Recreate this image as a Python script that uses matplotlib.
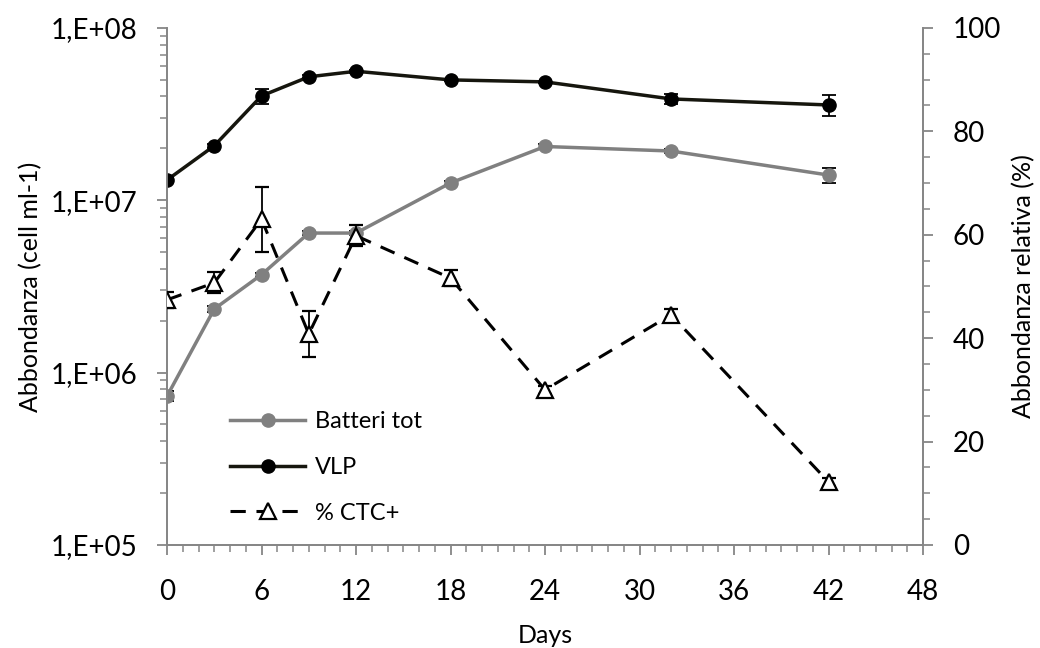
import numpy as np
import matplotlib
matplotlib.use("Agg")
import matplotlib.pyplot as plt
from matplotlib.lines import Line2D
from matplotlib.ticker import FixedLocator, MultipleLocator, FuncFormatter, NullFormatter

plt.rcParams['font.family'] = ['Lato', 'DejaVu Sans']

# sampling days
days = [0, 3, 6, 9, 12, 18, 24, 32, 42]

# total bacteria and virus-like particles (cell/ml)
batteri = [7.3e5, 2.34e6, 3.7e6, 6.45e6, 6.45e6, 1.26e7, 2.05e7, 1.93e7, 1.40e7]
batteri_err = [5e4, 1e5, 1e5, 1.5e5, 1.5e5, 3e5, 8e5, 5e5, 1.4e6]
vlp = [1.31e7, 2.07e7, 4.03e7, 5.2e7, 5.6e7, 4.99e7, 4.86e7, 3.87e7, 3.57e7]
vlp_err = [3e5, 5e5, 4e6, 1e6, 1e6, 8e5, 8e5, 2.5e6, 5e6]

# percentage of CTC+ cells
ctc = [47.4, 50.7, 63.0, 40.8, 59.8, 51.6, 30.0, 44.5, 12.2]
ctc_err = [1.6, 2.0, 6.3, 4.5, 2.0, 1.5, 0.8, 1.2, 0.8]

axis_grey = '#868686'
grey_line = '#808080'
dark_line = '#16160e'
dash = (0, (5, 3.5))

fig = plt.figure(figsize=(10.4, 6.48), dpi=100)
ax = fig.add_axes([0.1606, 0.159, 0.7269, 0.798])
ax2 = ax.twinx()

err_kw = dict(ecolor='black', elinewidth=1.3, capsize=5, capthick=1.3, zorder=3)
ax.errorbar(days, batteri, yerr=batteri_err, color=grey_line, lw=2.5,
            marker='o', ms=9.5, mec=grey_line, **err_kw)
ax.errorbar(days, vlp, yerr=vlp_err, color=dark_line, lw=2.5,
            marker='o', ms=9.5, mfc='black', mec='black', **err_kw)
ax2.errorbar(days, ctc, yerr=ctc_err, color='black', lw=2.2, ls=dash,
             marker='^', ms=12, mfc='white', mec='black', mew=1.6, **err_kw)

ax.set_yscale('log')
ax.set_ylim(1e5, 1e8)
ax.set_xlim(0, 48)
ax.yaxis.set_major_locator(FixedLocator([1e5, 1e6, 1e7, 1e8]))
ax.yaxis.set_minor_locator(FixedLocator(
    [m * 10 ** e for e in range(5, 8) for m in range(2, 10)]))
ax.yaxis.set_major_formatter(FuncFormatter(lambda v, p: '1,E+%02d' % round(np.log10(v))))
ax.yaxis.set_minor_formatter(NullFormatter())
ax.xaxis.set_major_locator(MultipleLocator(6))
ax.xaxis.set_minor_locator(MultipleLocator(1))

ax2.set_ylim(0, 100)
ax2.yaxis.set_major_locator(MultipleLocator(20))
ax2.yaxis.set_minor_locator(MultipleLocator(5))

for a in (ax, ax2):
    a.spines['top'].set_visible(False)
    for s in ('left', 'right', 'bottom'):
        a.spines[s].set_color(axis_grey)
        a.spines[s].set_linewidth(1.3)
    a.tick_params(which='major', length=7.5, width=1.3, color=axis_grey,
                  labelsize=20)
    a.tick_params(which='minor', length=5, width=1.1, color=axis_grey)
ax.tick_params(axis='x', which='major', pad=17)
ax.tick_params(axis='y', which='major', pad=14)
ax2.tick_params(axis='y', which='major', pad=14)

ax.set_xlabel('Days', fontsize=18, labelpad=14)
ax.set_ylabel('Abbondanza (cell ml-1)', fontsize=18, labelpad=6)
ax2.set_ylabel('Abbondanza relativa (%)', fontsize=18, labelpad=8)

# legend entries without the error bar glyphs
handles = [
    Line2D([], [], color=grey_line, lw=2.5, marker='o', ms=9.5, mec=grey_line),
    Line2D([], [], color=dark_line, lw=2.5, marker='o', ms=9.5, mfc='black', mec='black'),
    Line2D([], [], color='black', lw=2.2, ls=dash, marker='^', ms=12,
           mfc='white', mec='black', mew=1.6),
]
ax2.legend(handles, ['Batteri tot', 'VLP', '% CTC+'], loc='upper left',
           bbox_to_anchor=(0.055, 0.3), frameon=False, fontsize=17,
           handlelength=3.2, labelspacing=1.05, handletextpad=0.4)

fig.savefig('out.png', dpi=100)
